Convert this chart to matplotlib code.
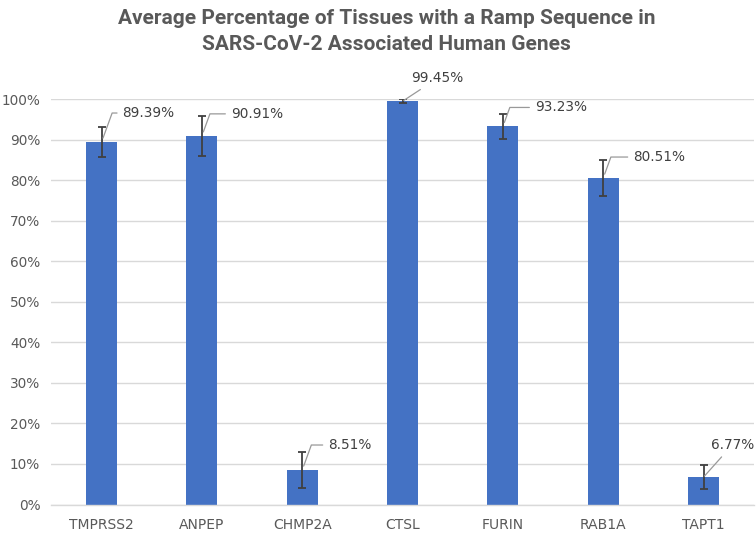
import matplotlib
matplotlib.use("Agg")
import matplotlib.pyplot as plt

# ---- data ----
genes = ["TMPRSS2", "ANPEP", "CHMP2A", "CTSL", "FURIN", "RAB1A", "TAPT1"]
values = [89.39, 90.91, 8.51, 99.45, 93.23, 80.51, 6.77]
errors = [3.8, 5.0, 4.5, 0.5, 3.0, 4.5, 2.9]
yticks = [0, 10, 20, 30, 40, 50, 60, 70, 80, 90, 100]
title = "Average Percentage of Tissues with a Ramp Sequence in\nSARS-CoV-2 Associated Human Genes"

# ---- label placement style (pixel offsets from bar top) ----
label_offsets = [(21, 29), (29, 22), (26, 25), (35, 23), (32, 19), (30, 21), (7, 32)]
label_kind = ["elbow", "elbow", "elbow", "straight", "elbow", "elbow", "straight"]

BAR = "#4472C4"
GRID = "#D9D9D9"
TXT = "#595959"

fig = plt.figure(figsize=(7.56, 5.34), dpi=100)
ax = fig.add_axes([0.068, 0.0552, 0.929, 0.7594])

x = list(range(len(genes)))
ax.bar(x, values, width=0.31, color=BAR, zorder=2)
ax.errorbar(x, values, yerr=errors, fmt="none", ecolor="#404040",
            elinewidth=1.3, capsize=3.2, capthick=1.3, zorder=3)

ax.set_xlim(-0.5, len(genes) - 0.5)
ax.set_ylim(0, 100)
ax.set_yticks(yticks)
ax.set_yticklabels([f"{t}%" for t in yticks])
ax.set_xticks(x)
ax.set_xticklabels(genes)
ax.yaxis.grid(True, color=GRID, linewidth=1.0, zorder=0)
ax.set_axisbelow(True)
for s in ["top", "right", "left"]:
    ax.spines[s].set_visible(False)
ax.spines["bottom"].set_color(GRID)
ax.spines["bottom"].set_linewidth(1.0)
ax.tick_params(axis="both", length=0, colors=TXT, labelsize=10)
ax.tick_params(axis="y", pad=8, labelsize=9.8)
ax.tick_params(axis="x", pad=9.5)

for i, (v, (dx, dy), kind) in enumerate(zip(values, label_offsets, label_kind)):
    if kind == "elbow":
        ax.annotate(f"{v:.2f}%", xy=(i, v), xytext=(dx, dy),
                    textcoords="offset pixels", ha="left", va="center",
                    fontsize=9.8, color="#404040",
                    arrowprops=dict(arrowstyle="-", color="#999999", lw=0.9,
                                    connectionstyle="angle,angleA=0,angleB=70,rad=0",
                                    shrinkA=2, shrinkB=3))
    else:
        ax.annotate(f"{v:.2f}%", xy=(i, v), xytext=(dx, dy),
                    textcoords="offset pixels",
                    ha="center" if dx > 20 else "left", va="center",
                    fontsize=9.8, color="#404040",
                    arrowprops=dict(arrowstyle="-", color="#999999", lw=0.9,
                                    connectionstyle="arc3", shrinkA=2, shrinkB=1))

fig.text(0.511, 0.984, title, ha="center", va="top", fontsize=15,
         fontweight="bold", color=TXT,
         family=["Roboto", "DejaVu Sans"], linespacing=1.5)

fig.savefig("out.png", dpi=100)
